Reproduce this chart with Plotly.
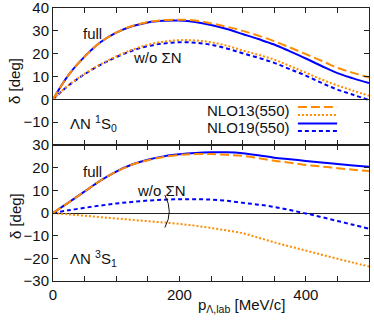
import plotly.graph_objects as go
from plotly.subplots import make_subplots

p_lab = [0, 25, 50, 75, 100, 125, 150, 175, 200, 225, 250, 275, 300, 325, 350, 375, 400, 425, 450, 475, 500]

# 1S0 (top panel)
s0_nlo13_full = [0, 10.8, 18.7, 25.0, 29.2, 32.1, 33.8, 34.7, 34.9, 34.5, 33.3, 31.8, 30.0, 27.9, 25.5, 22.7, 19.8, 16.9, 13.8, 11.6, 9.6]
s0_nlo13_wo = [0, 6.3, 11.2, 15.3, 18.8, 21.7, 23.9, 25.3, 25.9, 25.8, 25.0, 23.5, 21.4, 19.5, 17.4, 14.6, 11.7, 8.7, 6.1, 3.8, 1.6]
s0_nlo19_full = [0, 10.8, 18.7, 25.0, 29.2, 32.0, 33.7, 34.4, 34.5, 33.9, 32.6, 30.8, 28.6, 26.4, 24.0, 21.0, 17.9, 14.6, 11.5, 9.2, 7.1]
s0_nlo19_wo = [0, 6.2, 11.0, 15.1, 18.5, 21.3, 23.3, 24.5, 25.0, 24.8, 23.9, 22.3, 20.2, 18.2, 16.0, 13.2, 10.4, 7.2, 4.3, 2.0, -0.3]

# 3S1 (bottom panel)
s1_nlo13_full = [0, 4.7, 9.5, 14.3, 18.2, 21.3, 23.3, 24.7, 25.6, 26.0, 26.0, 25.7, 25.2, 24.2, 23.1, 22.2, 21.2, 20.5, 19.8, 19.1, 18.5]
s1_nlo13_wo = [0, -0.6, -1.2, -1.8, -2.4, -3.0, -3.6, -4.2, -4.8, -5.6, -6.6, -7.7, -8.9, -10.9, -12.9, -14.8, -16.6, -18.4, -20.2, -21.9, -23.6]
s1_nlo19_full = [0, 4.7, 9.5, 14.3, 18.3, 21.4, 23.5, 25.0, 25.9, 26.5, 26.8, 26.8, 26.4, 25.5, 24.4, 23.7, 23.0, 22.3, 21.6, 21.0, 20.4]
s1_nlo19_wo = [0, 1.2, 2.3, 3.3, 4.2, 4.9, 5.5, 5.9, 6.1, 6.1, 5.9, 5.4, 4.5, 3.7, 2.7, 1.3, -0.2, -1.8, -3.5, -5.2, -6.9]

top_ticks = [-10, 0, 10, 20, 30, 40]
bot_ticks = [-30, -20, -10, 0, 10, 20, 30]
x_ticks = [0, 200, 400]

ORANGE = "#ff8c00"
BLUE = "#0000ff"
FONT = "Liberation Sans"
FS = 15

fig = make_subplots(rows=2, cols=1, shared_xaxes=True, vertical_spacing=0)

styles = [
    (ORANGE, "9px,4px"),   # NLO13 full
    (ORANGE, "2px,2px"),   # NLO13 w/o
    (BLUE, "solid"),       # NLO19 full
    (BLUE, "4px,3px"),     # NLO19 w/o
]
draw_order = [2, 3, 0, 1]  # blue first, orange on top

for row, series in [(1, [s0_nlo13_full, s0_nlo13_wo, s0_nlo19_full, s0_nlo19_wo]),
                    (2, [s1_nlo13_full, s1_nlo13_wo, s1_nlo19_full, s1_nlo19_wo])]:
    for i in draw_order:
        col, dash = styles[i]
        fig.add_trace(go.Scatter(x=p_lab, y=series[i], mode="lines",
                                 line=dict(color=col, dash=dash, width=2, shape="spline"),
                                 showlegend=False, hoverinfo="skip"), row=row, col=1)

axis_common = dict(showline=True, linecolor="#222", linewidth=1, mirror="ticks",
                   ticks="inside", ticklen=5, tickcolor="#222", tickwidth=1, automargin=False,
                   ticklabeloverflow="allow",
                   showgrid=False, tickfont=dict(family=FONT, size=FS, color="#111"))

fig.update_xaxes(range=[0, 500], tickvals=x_ticks, zeroline=False,
                 minor=dict(dtick=50, tick0=0, ticks="inside", ticklen=5, tickcolor="#222", tickwidth=1, showgrid=False),
                 **axis_common)
fig.update_xaxes(showticklabels=False, row=1, col=1)
fig.update_yaxes(zeroline=True, zerolinecolor="#222", zerolinewidth=1, **axis_common)
fig.update_yaxes(range=[-20, 40], tickvals=top_ticks, row=1, col=1)
fig.update_yaxes(range=[-30, 30], tickvals=bot_ticks, row=2, col=1)

fig.update_layout(
    width=374, height=324,
    margin=dict(l=53, r=5, t=8, b=43, autoexpand=False),
    paper_bgcolor="white", plot_bgcolor="white",
    font=dict(family=FONT, size=FS, color="#111"),
)
fig.update_yaxes(domain=[0.498, 1.0], row=1, col=1)
fig.update_yaxes(domain=[0.0, 0.498], row=2, col=1)

ann = []
txt = dict(font=dict(family=FONT, size=FS, color="#111"), showarrow=False)
# axis titles
ann.append(dict(text="δ [deg]", xref="paper", yref="paper", x=-0.12, y=0.733, textangle=-90,
                xanchor="center", yanchor="middle", **txt))
ann.append(dict(text="δ [deg]", xref="paper", yref="paper", x=-0.12, y=0.238, textangle=-90,
                xanchor="center", yanchor="middle", **txt))
ann.append(dict(text="p<sub>Λ,lab</sub> [MeV/c]", xref="paper", yref="paper", x=0.595, y=-0.09,
                xanchor="center", yanchor="middle", **txt))
# panel labels
ann.append(dict(text="full", xref="x", yref="y", x=62, y=29, xanchor="center", yanchor="middle", **txt))
ann.append(dict(text="w/o ΣN", xref="x", yref="y", x=165, y=18.2, xanchor="center", yanchor="middle", **txt))
ann.append(dict(text="ΛN <sup>1</sup>S<sub>0</sub>", xref="x", yref="y", x=24, y=-10.5, xanchor="left", yanchor="middle", **txt))
ann.append(dict(text="full", xref="x2", yref="y2", x=62, y=18.5, xanchor="center", yanchor="middle", **txt))
ann.append(dict(text="w/o ΣN", xref="x2", yref="y2", x=172, y=9.8, xanchor="center", yanchor="middle", **txt))
ann.append(dict(text="ΛN <sup>3</sup>S<sub>1</sub>", xref="x2", yref="y2", x=24, y=-20, xanchor="left", yanchor="middle", **txt))
# legend text
ann.append(dict(text="NLO13(550)", xref="paper", yref="paper", x=0.757, y=0.623, xanchor="right", yanchor="middle", **txt))
ann.append(dict(text="NLO19(550)", xref="paper", yref="paper", x=0.757, y=0.562, xanchor="right", yanchor="middle", **txt))
fig.update_layout(annotations=ann)

shapes = []
leg_x0, leg_x1 = 0.775, 0.899
for (col, dash), yy in zip(styles, [0.637, 0.608, 0.577, 0.549]):
    shapes.append(dict(type="line", xref="paper", yref="paper", x0=leg_x0, x1=leg_x1, y0=yy, y1=yy,
                       line=dict(color=col, width=2, dash=dash)))
# arc connecting the two w/o curves
shapes.append(dict(type="path", xref="x2", yref="y2", path="M 177,7.9 Q 191,0.7 177,-6.4",
                   line=dict(color="#111", width=1)))
fig.update_layout(shapes=shapes)

fig.write_html("out.html", config={"displayModeBar": False},
               post_script="document.body.style.margin='0px';document.body.style.padding='0px';")
